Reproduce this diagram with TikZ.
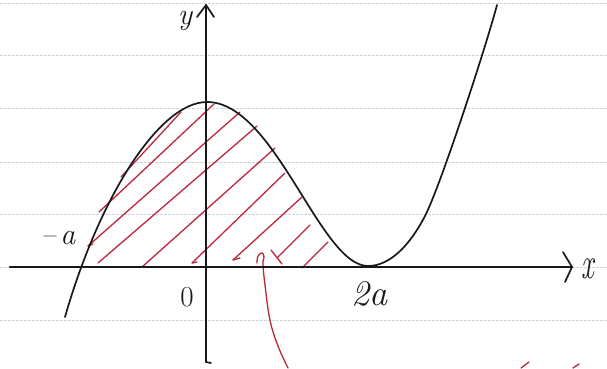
\documentclass[tikz,border=0pt]{standalone}
\definecolor{rulec}{RGB}{208,210,220}
\definecolor{redink}{RGB}{188,38,62}
\definecolor{inkc}{RGB}{25,25,25}
\begin{document}
\begin{tikzpicture}[x=1pt,y=-1pt,
  rule/.style={draw=rulec, line width=0.9pt, dash pattern=on 3pt off 1pt},
  ink/.style={draw=inkc, line width=1.7pt, line cap=round, line join=round},
  hatch/.style={draw=redink, line width=1.3pt, line cap=round, line join=round},
  lbl/.style={inner sep=0pt, text=inkc}]
\useasboundingbox (0,0) rectangle (607,368);
\fill[white] (0,0) rectangle (607,368);
% ruled paper
\foreach \yy in {3,55,108,162,214,267,320}
  \draw[rule] (0,\yy) -- (607,\yy);
% hatching
\draw[hatch] (121,177) -- (181,112);
\draw[hatch] (99,212) -- (214,104);
\draw[hatch] (88,246) -- (240,112);
\draw[hatch] (88,246) -- (93,244);
\draw[hatch] (98,263) -- (257,126);
\draw[hatch] (142,267) -- (275,148);
\draw[hatch] (192,263) -- (285,173);
\draw[hatch] (192,263) -- (197,262);
\draw[hatch] (233,260) -- (302,197);
\draw[hatch] (233,260) -- (240,258);
\draw[hatch] (277,258) -- (310,225);
\draw[hatch] (271,250) -- (282,264);
\draw[hatch] (302,268) -- (328,242);
% red hook pointer
\draw[hatch] plot[smooth, tension=0.7] coordinates {(257,263) (258,256) (262,253) (264,257) (263,264) (265,285) (270,320) (278,346) (288,368)};
% small red marks at bottom right
\draw[hatch] (521,368) -- (529,362);
\draw[hatch] (573,368) -- (579,364);
% axes
\coordinate (xs) at (10,267);
\coordinate (xe) at (572,267);
\coordinate (ys) at (206,362);
\coordinate (ye) at (206,5);
\draw[ink, line width=2.1pt] (xs) -- (xe);
\draw[ink] (563,252) -- (xe) -- (565,282);
\draw[ink] (ys) -- (ye);
\draw[ink] (ys) -- (211,363);
\draw[ink] (197,17) -- (ye) -- (214,17);
% curve
\coordinate (c0) at (65,317);
\coordinate (cmax) at (207,102);
\coordinate (cmin) at (368,266);
\coordinate (c3) at (425,216);
\coordinate (c4) at (497,5);
\draw[ink] (c0) .. controls (100,195) and (160,102) .. (cmax)
  .. controls (275,102) and (320,266) .. (cmin)
  .. controls (390,266) and (410,245) .. (c3)
  .. controls (440,187) and (485,50) .. (c4);
% labels
\node[lbl, font=\fontsize{30}{30}\selectfont\itshape] (ylab) at (185,21) {y};
\node[lbl, font=\fontsize{28}{28}\selectfont\itshape, yscale=1.6] (xlab) at (588,269) {x};
\node[lbl, font=\fontsize{29}{29}\selectfont] (o) at (187,297) {0};
\node[lbl, font=\fontsize{36}{36}\selectfont\itshape] (twoa) at (369,294) {2a};
\node[lbl, font=\fontsize{30}{30}\selectfont\itshape] (ma) at (58,238) {--\,a};
\end{tikzpicture}
\end{document}
